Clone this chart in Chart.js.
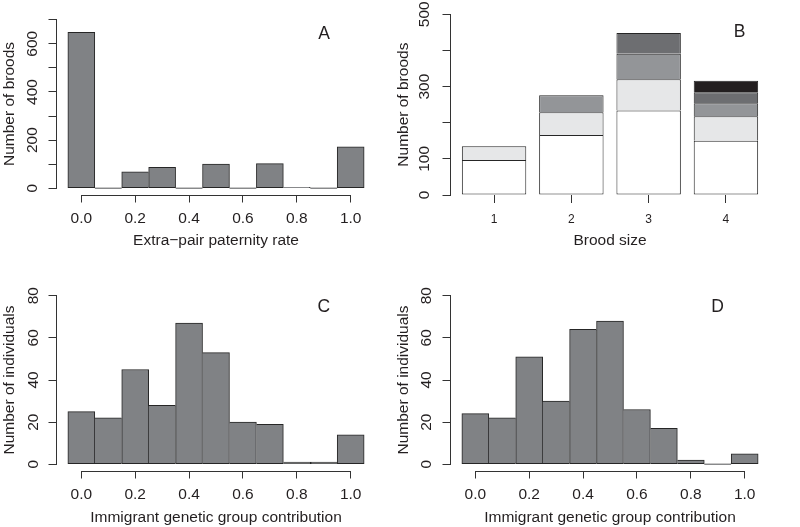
<!DOCTYPE html>
<html>
<head>
<meta charset="utf-8">
<title>Broods and immigrant contribution</title>
<script src="https://cdn.jsdelivr.net/npm/chart.js@4.4.1/dist/chart.umd.min.js"></script>
<style>
  html, body { margin: 0; padding: 0; background: #ffffff; }
  #figure { position: relative; width: 800px; height: 527px; overflow: hidden; }
  #figure canvas { position: absolute; }
</style>
</head>
<body>
<div id="figure">
  <canvas id="panelA" width="400" height="263" style="left:0;top:0"></canvas>
  <canvas id="panelB" width="410" height="263" style="left:390px;top:0"></canvas>
  <canvas id="panelC" width="400" height="264" style="left:0;top:263px"></canvas>
  <canvas id="panelD" width="410" height="264" style="left:390px;top:263px"></canvas>
</div>
<script>
/* ------------------------------------------------------------------ */
/*  Data                                                              */
/* ------------------------------------------------------------------ */

// Histogram bins (bin mid-points, width 0.1) shared by panels A, C, D.
var BIN_MIDS = [0.0, 0.1, 0.2, 0.3, 0.4, 0.5, 0.6, 0.7, 0.8, 0.9, 1.0];
var RATE_TICKS = [0, 0.2, 0.4, 0.6, 0.8, 1.0];
var RATE_TICK_LABELS = ['0.0', '0.2', '0.4', '0.6', '0.8', '1.0'];

// Panel A: broods per extra-pair paternity rate.
var EPP_BROODS = [648, 0, 68, 87, 0, 100, 0, 102, 3, 0, 172];
var EPP_Y_TICKS = [0, 100, 200, 300, 400, 500, 600, 700];
var EPP_Y_LABELS = ['0', '', '200', '', '400', '', '600', ''];

// Panel B: broods per brood size, stacked by number of extra-pair young.
var BROOD_SIZES = [1, 2, 3, 4];
var BROODS_EPY0 = [97, 166, 234, 150];
var BROODS_EPY1 = [38, 63, 86, 68];
var BROODS_EPY2 = [0, 47, 71, 36];
var BROODS_EPY3 = [0, 0, 57, 30];
var BROODS_EPY4 = [0, 0, 0, 32];
var SIZE_TICK_LABELS = ['1', '2', '3', '4'];
var SIZE_Y_TICKS = [0, 100, 200, 300, 400, 500];
var SIZE_Y_LABELS = ['0', '100', '', '300', '', '500'];

// Panels C and D: individuals per immigrant genetic group contribution.
var IMMIGRANT_C = [25, 22, 45, 28, 67, 53, 20, 19, 1, 1, 14];
var IMMIGRANT_D = [24, 22, 51, 30, 64, 68, 26, 17, 2, 0, 5];
var IND_Y_TICKS = [0, 20, 40, 60, 80];
var IND_Y_LABELS = ['0', '20', '40', '60', '80'];

/* ------------------------------------------------------------------ */
/*  Styling                                                           */
/* ------------------------------------------------------------------ */

var FONT = '"Liberation Sans", Arial, Helvetica, sans-serif';
var TEXT_COLOR = '#231f20';
var AXIS_COLOR = '#333333';
var BAR_FILL = '#808285';
var BAR_EDGE = '#262626';
var STACK_COLORS = ['#ffffff', '#e6e7e8', '#939598', '#6d6e71', '#231f20'];

/* ------------------------------------------------------------------ */
/*  Helpers                                                           */
/* ------------------------------------------------------------------ */

/**
 * Border widths for a histogram bar: each shared edge is drawn once,
 * by the taller of the two neighbouring bars (like R's hist()).
 */
function histBorder(counts) {
  return function (ctx) {
    if (ctx.type !== 'data') return 1;
    var i = ctx.dataIndex;
    var c = counts[i];
    var prev = i > 0 ? counts[i - 1] : -1;
    var next = i < counts.length - 1 ? counts[i + 1] : -1;
    return { top: 1, bottom: 1, left: prev <= c ? 1 : 0, right: next < c ? 1 : 0 };
  };
}

function fixedTicks(values) {
  return function (scale) {
    scale.ticks = values.map(function (v) { return { value: v }; });
  };
}

/** Left value axis drawn the R way: rotated labels, outward ticks. */
function rYScale(p) {
  return {
    type: 'linear',
    min: p.yMin,
    max: p.yMax,
    afterBuildTicks: fixedTicks(p.yTicks),
    afterFit: function (scale) { scale.width = p.area.left; },
    grid: { drawOnChartArea: false, drawTicks: true, tickLength: 7.5, color: AXIS_COLOR, offset: false },
    border: { display: false },
    ticks: {
      autoSkip: false,
      minRotation: 90,
      maxRotation: 90,
      crossAlign: 'center',
      padding: p.yTickPad,
      color: TEXT_COLOR,
      font: { family: FONT, size: 15.5 },
      callback: function (v, i) { return p.yLabels[i]; },
    },
    title: {
      display: true,
      text: p.yTitle,
      color: TEXT_COLOR,
      font: { family: FONT, size: 15.5 },
      padding: { top: p.yTitlePad, bottom: 0 },
    },
  };
}

/** Bottom axis: fixed tick positions, R-like spacing. */
function rXScale(p) {
  return {
    type: 'linear',
    min: p.xMin,
    max: p.xMax,
    offset: false,
    afterBuildTicks: fixedTicks(p.xTicks),
    afterFit: function (scale) { scale.height = p.height - p.area.bottom; },
    grid: { drawOnChartArea: false, drawTicks: true, tickLength: p.xTickLen || 7.5, color: AXIS_COLOR, offset: false },
    border: { display: false },
    ticks: {
      autoSkip: false,
      maxRotation: 0,
      minRotation: 0,
      padding: p.xTickPad,
      color: TEXT_COLOR,
      font: { family: FONT, size: p.xTickSize || 15.5 },
      callback: function (v, i) { return p.xLabels[i]; },
    },
    title: {
      display: true,
      text: p.xTitle,
      color: TEXT_COLOR,
      font: { family: FONT, size: 15.5 },
      padding: { top: 0, bottom: p.xTitlePad },
    },
  };
}

/** Axis lines spanning first..last tick only, plus the panel letter. */
var rAxesPlugin = {
  id: 'rAxes',
  afterDraw: function (chart) {
    var opts = chart.options.plugins.rAxes;
    var ctx = chart.ctx;
    var area = chart.chartArea;
    var xs = chart.scales.x;
    var ys = chart.scales.y;
    var align = function (px) { return Math.round(px - 0.5) + 0.5; };

    ctx.save();
    ctx.strokeStyle = AXIS_COLOR;
    ctx.lineWidth = 1;

    var yx = Math.round(area.left) + 0.5;
    ctx.beginPath();
    ctx.moveTo(yx, align(ys.getPixelForValue(ys.ticks[0].value)) + 0.5);
    ctx.lineTo(yx, align(ys.getPixelForValue(ys.ticks[ys.ticks.length - 1].value)) - 0.5);
    ctx.stroke();

    if (opts.xLine) {
      var xy = Math.round(area.bottom) + 0.5;
      ctx.beginPath();
      ctx.moveTo(align(xs.getPixelForValue(xs.ticks[0].value)) - 0.5, xy);
      ctx.lineTo(align(xs.getPixelForValue(xs.ticks[xs.ticks.length - 1].value)) + 0.5, xy);
      ctx.stroke();
    }

    ctx.fillStyle = TEXT_COLOR;
    ctx.font = '17.5px ' + FONT;
    ctx.textAlign = 'center';
    ctx.textBaseline = 'middle';
    ctx.fillText(opts.letter, opts.letterX, opts.letterY);
    ctx.restore();
  },
};

function baseOptions(p) {
  return {
    responsive: false,
    animation: false,
    events: [],
    layout: {
      padding: { left: 0, top: p.area.top, right: p.width - p.area.right, bottom: 0 },
    },
    plugins: {
      legend: { display: false },
      tooltip: { enabled: false },
      rAxes: { letter: p.letter, letterX: p.letterX, letterY: p.letterY, xLine: p.xLine },
    },
    scales: { x: rXScale(p), y: rYScale(p) },
  };
}

function histogramChart(canvasId, counts, p) {
  return new Chart(document.getElementById(canvasId), {
    type: 'bar',
    data: {
      labels: BIN_MIDS,
      datasets: [{
        data: counts,
        backgroundColor: BAR_FILL,
        borderColor: BAR_EDGE,
        borderWidth: histBorder(counts),
        borderSkipped: false,
        minBarLength: 1,
        barPercentage: 1,
        categoryPercentage: 1,
      }],
    },
    options: baseOptions(p),
    plugins: [rAxesPlugin],
  });
}

/* ------------------------------------------------------------------ */
/*  Panels                                                            */
/* ------------------------------------------------------------------ */

histogramChart('panelA', EPP_BROODS, {
  width: 400, height: 263,
  area: { left: 56, right: 376, top: 13, bottom: 195 },
  xMin: -0.094, xMax: 1.094, xTicks: RATE_TICKS, xLabels: RATE_TICK_LABELS,
  yMin: -28, yMax: 728, yTicks: EPP_Y_TICKS, yLabels: EPP_Y_LABELS,
  xTitle: 'Extra\u2212pair paternity rate', yTitle: 'Number of broods',
  xTickPad: 6.5, xTitlePad: 13, yTickPad: 2.7, yTitlePad: 0.3,
  xLine: true, letter: 'A', letterX: 324, letterY: 34,
});

var stackSeries = [BROODS_EPY0, BROODS_EPY1, BROODS_EPY2, BROODS_EPY3, BROODS_EPY4];
var panelB = {
  width: 410, height: 263,
  area: { left: 60, right: 380, top: 13, bottom: 195 },
  xMin: 0.43, xMax: 4.57, xTicks: BROOD_SIZES, xLabels: SIZE_TICK_LABELS,
  yMin: 0, yMax: 500, yTicks: SIZE_Y_TICKS, yLabels: SIZE_Y_LABELS,
  xTitle: 'Brood size', yTitle: 'Number of broods',
  xTickPad: 9.4, xTickLen: 8, xTickSize: 12, xTitlePad: 13, yTickPad: 5, yTitlePad: 4.3,
  xLine: false, letter: 'B', letterX: 349.5, letterY: 32.5,
};
var optionsB = baseOptions(panelB);
optionsB.scales.x.stacked = true;
optionsB.scales.y.stacked = true;

new Chart(document.getElementById('panelB'), {
  type: 'bar',
  data: {
    labels: BROOD_SIZES,
    datasets: stackSeries.map(function (series, k) {
      return {
        data: series,
        backgroundColor: STACK_COLORS[k],
        borderColor: BAR_EDGE,
        borderWidth: 1,
        borderSkipped: k === 0 ? false : 'start',
        barPercentage: 1 / 1.2,
        categoryPercentage: 1,
      };
    }),
  },
  options: optionsB,
  plugins: [rAxesPlugin],
});

histogramChart('panelC', IMMIGRANT_C, {
  width: 400, height: 264,
  area: { left: 56, right: 376, top: 26, bottom: 208 },
  xMin: -0.094, xMax: 1.094, xTicks: RATE_TICKS, xLabels: RATE_TICK_LABELS,
  yMin: -3.2, yMax: 83.2, yTicks: IND_Y_TICKS, yLabels: IND_Y_LABELS,
  xTitle: 'Immigrant genetic group contribution', yTitle: 'Number of individuals',
  xTickPad: 6.5, xTitlePad: 0, yTickPad: 6.3, yTitlePad: 0.3,
  xLine: true, letter: 'C', letterX: 323.7, letterY: 44.3,
});

histogramChart('panelD', IMMIGRANT_D, {
  width: 410, height: 264,
  area: { left: 60, right: 380, top: 26, bottom: 208 },
  xMin: -0.094, xMax: 1.094, xTicks: RATE_TICKS, xLabels: RATE_TICK_LABELS,
  yMin: -3.2, yMax: 83.2, yTicks: IND_Y_TICKS, yLabels: IND_Y_LABELS,
  xTitle: 'Immigrant genetic group contribution', yTitle: 'Number of individuals',
  xTickPad: 6.5, xTitlePad: 0, yTickPad: 7.6, yTitlePad: 4.3,
  xLine: true, letter: 'D', letterX: 327.5, letterY: 44.3,
});
</script>
</body>
</html>
